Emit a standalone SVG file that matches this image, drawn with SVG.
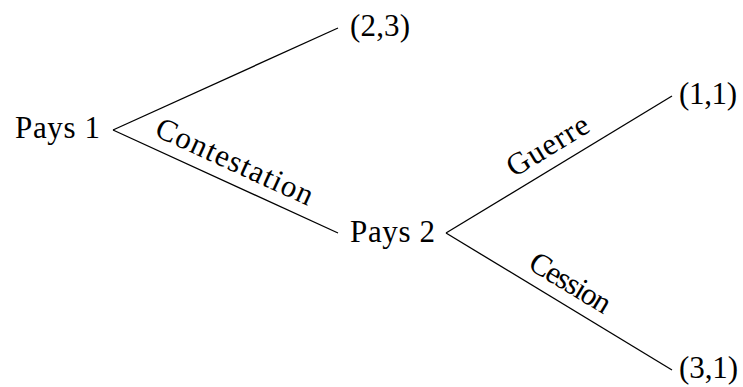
<svg xmlns="http://www.w3.org/2000/svg" width="743" height="387" viewBox="0 0 743 387">
<style>
.t{font-family:'Liberation Serif','DejaVu Serif',serif;font-size:31px;fill:#000}
.e{stroke:#000;stroke-width:1.3;fill:none}
</style>
<rect width="743" height="387" fill="#fff"/>
<g id="edges">
<line class="e" x1="113" y1="130" x2="338" y2="28"/>
<line class="e" x1="113" y1="130" x2="338" y2="233"/>
<line class="e" x1="446" y1="233" x2="672" y2="96"/>
<line class="e" x1="446" y1="233" x2="672" y2="370"/>
<text class="t" transform="translate(230.5,170.6) rotate(24.6)" x="-85" y="0" textLength="170" lengthAdjust="spacing">Contestation</text>
<text class="t" transform="translate(552.8,154.2) rotate(-31.22)" x="-45.5" y="0" textLength="91" lengthAdjust="spacing">Guerre</text>
<text class="t" transform="translate(565.2,291.2) rotate(31.22)" x="-45" y="0" textLength="90" lengthAdjust="spacing">Cession</text>
</g>
<g id="pays1"><text class="t" x="15" y="138" textLength="85" lengthAdjust="spacing">Pays 1</text></g>
<g id="pays2"><text class="t" x="350" y="242" textLength="85" lengthAdjust="spacing">Pays 2</text></g>
<g id="out23"><text class="t" x="350" y="36" textLength="60" lengthAdjust="spacing">(2,3)</text></g>
<g id="out11"><text class="t" x="679" y="104" textLength="58" lengthAdjust="spacing">(1,1)</text></g>
<g id="out31"><text class="t" x="679" y="378" textLength="59" lengthAdjust="spacing">(3,1)</text></g>
</svg>
